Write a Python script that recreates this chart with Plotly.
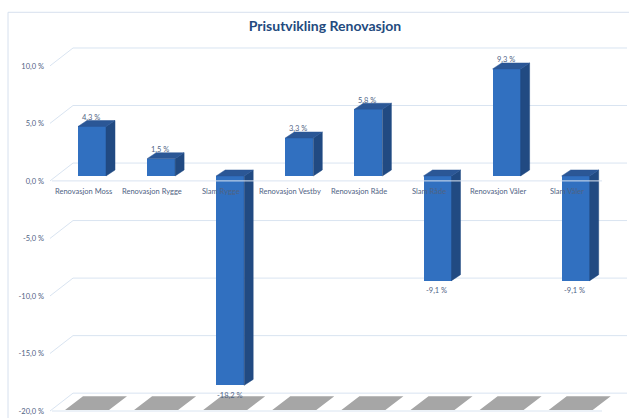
import plotly.graph_objects as go

# ---------------- data ----------------
categories = ["Renovasjon Moss", "Renovasjon Rygge", "Slam Rygge", "Renovasjon Vestby",
              "Renovasjon Råde", "Slam Råde", "Renovasjon Våler", "Slam Våler"]
values = [4.3, 1.5, -18.2, 3.3, 5.8, -9.1, 9.3, -9.1]
value_labels = ["4,3 %", "1,5 %", "-18,2 %", "3,3 %", "5,8 %", "-9,1 %", "9,3 %", "-9,1 %"]
tick_vals = [10, 5, 0, -5, -10, -15, -20]
tick_text = ["10,0 %", "5,0 %", "0,0 %", "-5,0 %", "-10,0 %", "-15,0 %", "-20,0 %"]
title_text = "Prisutvikling Renovasjon"

# ---------------- geometry / style ----------------
W, H = 629, 418
PL, PR, PT, PB = 50, 2, 47, 3          # plot area margins (px)
PX_X = 69.1                             # px per category unit
PX_Y = 11.6                             # px per percent
plot_w = W - PL - PR
plot_h = H - PT - PB
x_lo = (PL - 92) / PX_X
x_hi = x_lo + plot_w / PX_X
y_lo = (177 - (H - PB)) / PX_Y
y_hi = (177 - PT) / PX_Y

BAR_W = 28 / PX_X
DX = 9 / PX_X
DY = 6 / PX_Y
LABEL_OFF = -9 / PX_X
FRONT = -5 / PX_Y
BACK = 13 / PX_Y

FRONT_COL = "#3170c0"
SIDE_COL = "#214a82"
TOP_COL = "#2b5796"
SHADOW_COL = "#a6a6a6"
GRID_COL = "#d9e4f1"
TEXT_COL = "#4f6384"
FONT = "Lato"

xs = list(range(len(categories)))

fig = go.Figure()

# shadows on the floor
sx, sy = [], []
yb, yt = (177 - 413) / PX_Y, (177 - 399) / PX_Y
for i in xs:
    c = i + LABEL_OFF
    pts = [(c - 18 / PX_X, yb), (c + 26 / PX_X, yb), (c + 44 / PX_X, yt), (c, yt), (c - 18 / PX_X, yb)]
    for p in pts:
        sx.append(p[0]); sy.append(p[1])
    sx.append(None); sy.append(None)
fig.add_trace(go.Scatter(x=sx, y=sy, fill="toself", fillcolor=SHADOW_COL, mode="lines",
                         line=dict(width=0, color=SHADOW_COL), hoverinfo="skip", showlegend=False))

# front faces
fig.add_trace(go.Bar(x=xs, y=values, width=BAR_W, marker=dict(color=FRONT_COL, line=dict(width=0)),
                     hoverinfo="skip", showlegend=False))

# side and top faces
sdx, sdy = [], []
tx, ty = [], []
for i, v in zip(xs, values):
    xl, xr = i - BAR_W / 2, i + BAR_W / 2
    for p in [(xr, 0), (xr + DX, DY), (xr + DX, v + DY), (xr, v), (xr, 0)]:
        sdx.append(p[0]); sdy.append(p[1])
    sdx.append(None); sdy.append(None)
    top = max(v, 0)
    for p in [(xl, top), (xr, top), (xr + DX, top + DY), (xl + DX, top + DY), (xl, top)]:
        tx.append(p[0]); ty.append(p[1])
    tx.append(None); ty.append(None)
fig.add_trace(go.Scatter(x=sdx, y=sdy, fill="toself", fillcolor=SIDE_COL, mode="lines",
                         line=dict(width=0.5, color=SIDE_COL), hoverinfo="skip", showlegend=False))
fig.add_trace(go.Scatter(x=tx, y=ty, fill="toself", fillcolor=TOP_COL, mode="lines",
                         line=dict(width=0.5, color=TOP_COL), hoverinfo="skip", showlegend=False))

# gridlines (back wall) and left slants
shapes = []
gx0 = (73 - PL) / plot_w
for t in tick_vals:
    shapes.append(dict(type="line", xref="paper", yref="y", x0=gx0, x1=1, y0=t + BACK, y1=t + BACK,
                       line=dict(color=GRID_COL, width=1), layer="below"))
    shapes.append(dict(type="line", xref="paper", yref="y", x0=0, x1=gx0, y0=t + FRONT, y1=t + BACK,
                       line=dict(color=GRID_COL, width=1), layer="below"))
# front edge lines
fx0, fx1 = (52 - PL) / plot_w, (602 - PL) / plot_w
for t in (0, -20):
    shapes.append(dict(type="line", xref="paper", yref="y", x0=fx0, x1=fx1, y0=t + FRONT, y1=t + FRONT,
                       line=dict(color=GRID_COL, width=1), layer="above"))
# chart border
shapes.append(dict(type="rect", xref="paper", yref="paper",
                   x0=(8 - PL) / plot_w, x1=(W + 10 - PL) / plot_w,
                   y0=-(12 + PB) / plot_h, y1=(H - PB - 12) / plot_h,
                   line=dict(color="#d6e0ee", width=1), fillcolor="rgba(0,0,0,0)", layer="below"))

annotations = []
for i, name in zip(xs, categories):
    annotations.append(dict(x=i + LABEL_OFF, y=0, xref="x", yref="y", text=name, showarrow=False,
                            yshift=-16, font=dict(family=FONT, size=7.5, color=TEXT_COL)))
for i, v, lab in zip(xs, values, value_labels):
    annotations.append(dict(x=i - 1 / PX_X, y=v, xref="x", yref="y", text=lab, showarrow=False,
                            yshift=9 if v > 0 else -10, font=dict(family=FONT, size=7.5, color=TEXT_COL)))

fig.update_layout(
    width=W, height=H,
    margin=dict(l=PL, r=PR, t=PT, b=PB),
    paper_bgcolor="white", plot_bgcolor="rgba(0,0,0,0)",
    title=dict(text=title_text, x=325 / W, xanchor="center", y=1 - 26 / H, yanchor="middle",
               font=dict(family=FONT, size=14, color="#234a7e", weight="bold")),
    xaxis=dict(range=[x_lo, x_hi], showgrid=False, zeroline=False, showticklabels=False,
               showline=False, fixedrange=True),
    yaxis=dict(range=[y_lo, y_hi], tickvals=tick_vals, ticktext=tick_text, showgrid=False,
               zeroline=False, showline=False, ticks="", ticklabelshift=5, ticklabelstandoff=5,
               ticklabeloverflow="allow",
               tickfont=dict(family=FONT, size=7.5, color=TEXT_COL), fixedrange=True),
    shapes=shapes, annotations=annotations,
    bargap=0, showlegend=False,
)

fig.write_html("out.html")
